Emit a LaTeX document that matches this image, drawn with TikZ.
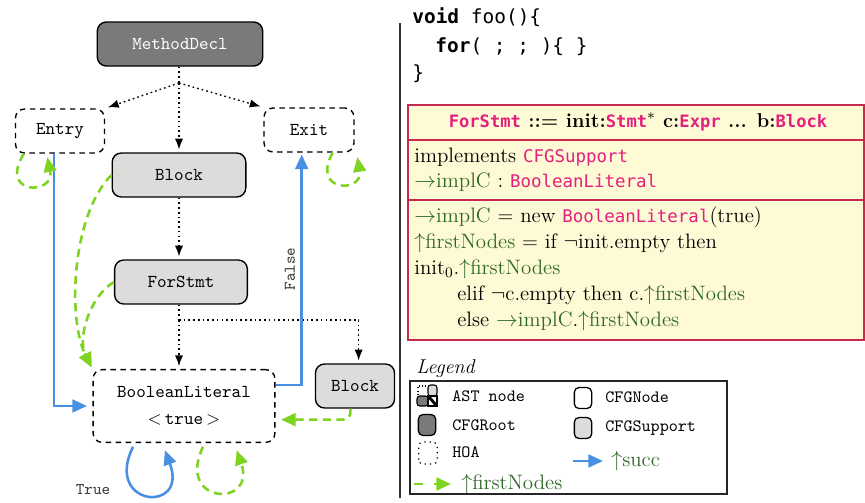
\documentclass[tikz,border=0pt]{standalone}
\usepackage{fontspec}
\usetikzlibrary{arrows.meta,positioning}
\newfontfamily\codefont{DejaVu Sans Mono}
\newfontfamily\astfont{DejaVu Sans Mono}
\definecolor{rootgray}{HTML}{7A7A7A}
\definecolor{supgray}{HTML}{DEDBDB}
\definecolor{succblue}{HTML}{4A90E2}
\definecolor{firstgreen}{HTML}{7ED321}
\definecolor{astpink}{HTML}{E2207E}
\definecolor{attrgreen}{HTML}{2D6A24}
\definecolor{boxred}{HTML}{C62A4E}
\definecolor{boxyellow}{HTML}{FFFAD6}
\newcommand{\AstName}[1]{{\astfont\fontsize{9.6}{11}\selectfont\color{astpink}#1}}
\newcommand{\AstBold}[1]{{\astfont\bfseries\fontsize{9.4}{11}\selectfont\color{astpink}#1}}
\newcommand{\AttrUp}[1]{\textcolor{attrgreen}{$\uparrow$#1}}
\newcommand{\AttrNta}[1]{\textcolor{attrgreen}{$\rightarrow$#1}}
\tikzset{
  cfgnode/.style={draw, line width=0.75pt, rounded corners=5pt, font=\ttfamily,
    minimum height=24.2pt, inner sep=2pt},
  rootnode/.style={cfgnode, fill=rootgray, text=white},
  supnode/.style={cfgnode, fill=supgray},
  hoanode/.style={cfgnode, dash pattern=on 3pt off 2.5pt},
  hoa/.style={line width=0.75pt, dash pattern=on 0.9pt off 1.7pt},
  hoaarrow/.style={hoa, -{Latex[length=6pt,width=4.5pt]}, shorten >=1.5pt},
  succ/.style={draw=succblue, line width=1.4pt, -{Triangle[length=8pt,width=7pt]}},
  first/.style={draw=firstgreen, line width=1.4pt, dash pattern=on 4.5pt off 3pt,
    -{Triangle[length=8pt,width=7pt]}},
  codeline/.style={anchor=west, inner sep=0pt, font=\codefont\fontsize{10.7}{12}\selectfont},
  boxline/.style={anchor=west, inner sep=0pt, text height=8pt, text depth=2.5pt,
    font=\fontsize{11.5}{13}\selectfont},
  legtext/.style={anchor=west, inner sep=0pt, font=\ttfamily\fontsize{9.5}{11}\selectfont},
  legicon/.style={draw, line width=0.7pt, rounded corners=2.5pt, minimum width=9.5pt,
    minimum height=11.5pt, inner sep=0pt}
}

\begin{document}
\begin{tikzpicture}[x=0.55pt,y=-0.55pt]
  \useasboundingbox (0,0) rectangle (865,503);
  % cfg of the method
  \node[rootnode, minimum width=91pt] (root) at (180,44) {MethodDecl};
  \node[hoanode, minimum width=49pt] (entry) at (60,131) {Entry};
  \node[hoanode, minimum width=49.5pt] (exit) at (309,130) {Exit};
  \node[supnode, minimum width=73.5pt] (blocka) at (179,175) {Block};
  \node[supnode, minimum width=73pt] (forstmt) at (181,282) {ForStmt};
  \node[hoanode, minimum width=100pt, minimum height=40pt, align=center] (bool) at (184,406)
    {BooleanLiteral\\[3pt]$<$\,true\,$>$};
  \node[supnode, minimum width=43.5pt] (blockb) at (355,386) {Block};

  \coordinate (rsplit) at (179,83);
  \coordinate (fsplit) at (179,320);
  \draw[hoa] (root.south -| rsplit) -- (rsplit);
  \draw[hoaarrow] (rsplit) -- (entry.north east);
  \draw[hoaarrow] (rsplit) -- (blocka.north -| rsplit);
  \draw[hoaarrow] (rsplit) -- (exit.north west);
  \draw[hoaarrow] (blocka.south -| rsplit) -- (forstmt.north -| rsplit);
  \draw[hoa] (forstmt.south -| fsplit) -- (fsplit);
  \draw[hoaarrow] (fsplit) -- (bool.north -| fsplit);
  \draw[hoaarrow] (fsplit) -| ([xshift=2pt]blockb.north);

  % succ
  \draw[succ, shorten >=3pt] ([xshift=-3.3pt]entry.south) |- (bool.west);
  \draw[succ, shorten >=1pt] ([yshift=11.5pt]bool.east) -| ([xshift=-4pt]exit.south)
    node[pos=0.75, anchor=south, rotate=90, text=black!75, font=\ttfamily\small,
      inner sep=3pt] (lfalse) {False};
  \draw[succ] ([xshift=-28pt,yshift=-2pt]bool.south) .. controls +(-30,60) and +(24,64) ..
    ([xshift=-10.5pt,yshift=-4pt]bool.south);
  \node[text=black!75, font=\ttfamily\small] (ltrue) at (93,490) {True};

  % firstNodes
  \draw[first] ([xshift=5pt]entry.south west) .. controls +(-26,42) and +(8,38) ..
    ([xshift=-7pt,yshift=-2pt]entry.south);
  \draw[first] ([xshift=13pt]exit.south) .. controls +(-22,40) and +(6,36) ..
    ([xshift=1.5pt,yshift=-2.5pt]exit.south east);
  \draw[first, shorten >=1pt] (blocka.west) .. controls +(-40,40) and +(-25,-50) ..
    (bool.north west);
  \draw[first, shorten >=1pt] (forstmt.west) .. controls +(-25,15) and +(-15,-30) ..
    (bool.north west);
  \draw[first, shorten >=3pt, rounded corners=4pt] ([xshift=-2.5pt]blockb.south) |-
    ([yshift=-7.5pt]bool.east);
  \draw[first] ([xshift=10.5pt,yshift=-2pt]bool.south) .. controls +(-28,58) and +(20,58) ..
    ([xshift=29pt,yshift=-4pt]bool.south);

  % source and attribute spec
  \draw[line width=0.7pt, black!80] (400,23) -- (400,498);
  \node[codeline] (codea) at (412,17) {\textbf{void} foo()\{};
  \node[codeline] (codeb) at (435,47) {\textbf{for}( ; ; )\{ \}};
  \node[codeline] (codec) at (412,74) {\}};

  \draw[draw=boxred, fill=boxyellow, line width=0.8pt] (408,105) rectangle (864,340);
  \draw[boxred, line width=0.8pt] (408,140) -- (864,140);
  \draw[boxred, line width=0.8pt] (408,200) -- (864,200);
  \node[inner sep=0pt, font=\fontsize{11}{13}\selectfont\bfseries] (rule) at (638,122)
    {\AstBold{ForStmt} ::= init:\AstBold{Stmt}$^*$ c:\AstBold{Expr} ... b:\AstBold{Block}};
  \node[boxline] (impl) at (414,157) {implements \AstName{CFGSupport}};
  \node[boxline] (implc) at (414,182) {\AttrNta{implC} : \AstName{BooleanLiteral}};
  \node[boxline] (eqa) at (414,217) {\AttrNta{implC} = new \AstName{BooleanLiteral}(true)};
  \node[boxline] (eqb) at (414,243) {\AttrUp{firstNodes} = if $\neg$init.empty then};
  \node[boxline] (eqc) at (414,269) {init$_0$.\AttrUp{firstNodes}};
  \node[boxline] (eqd) at (457,295) {elif $\neg$c.empty then c.\AttrUp{firstNodes}};
  \node[boxline] (eqe) at (457,321) {else \AttrNta{implC}.\AttrUp{firstNodes}};

  % legend
  \node[boxline, font=\fontsize{11}{13}\selectfont\itshape] (legtitle) at (416,368) {Legend};
  \draw[line width=0.8pt, black!85] (410,381) rectangle (727,494);
  \draw[line width=0.6pt, dash pattern=on 0.6pt off 1.2pt] (418,395) -- (418,386) -- (427,386);
  \filldraw[fill=supgray, line width=0.6pt, rounded corners=1.5pt] (428,385) rectangle (437,396);
  \filldraw[fill=rootgray, line width=0.6pt, rounded corners=1.5pt] (417,396) rectangle (428,406);
  \draw[line width=0.6pt] (428,396) rectangle (437,406);
  \draw[line width=1.6pt] (429,397) -- (436,405);
  \node[legtext] (lastn) at (452,396) {AST node};
  \node[legicon, fill=rootgray] (iroot) at (427,425) {};
  \node[legtext] (lroot) at (452,425) {CFGRoot};
  \node[legicon, draw=none] (ihoa) at (428,453) {};
  \draw[line width=0.7pt, dash pattern=on 0.7pt off 2.2pt, rounded corners=2.5pt]
    (ihoa.south west) rectangle (ihoa.north east);
  \node[legtext] (lhoa) at (452,452) {HOA};
  \node[legicon, fill=white] (inode) at (583,398) {};
  \node[legtext] (lnode) at (605,397) {CFGNode};
  \node[legicon, fill=supgray] (isup) at (583,428) {};
  \node[legtext] (lsup) at (605,428) {CFGSupport};
  \coordinate (succa) at (573,461);
  \coordinate (succb) at (603,461);
  \draw[succ] (succa) -- (succb);
  \node[boxline] (lsucc) at (611,461) {\AttrUp{succ}};
  \coordinate (firsta) at (414,484);
  \coordinate (firstb) at (451,484);
  \draw[first, dash pattern=on 5pt off 6pt] (firsta) -- (firstb);
  \node[boxline] (lfirst) at (461,484) {\AttrUp{firstNodes}};
\end{tikzpicture}
\end{document}
